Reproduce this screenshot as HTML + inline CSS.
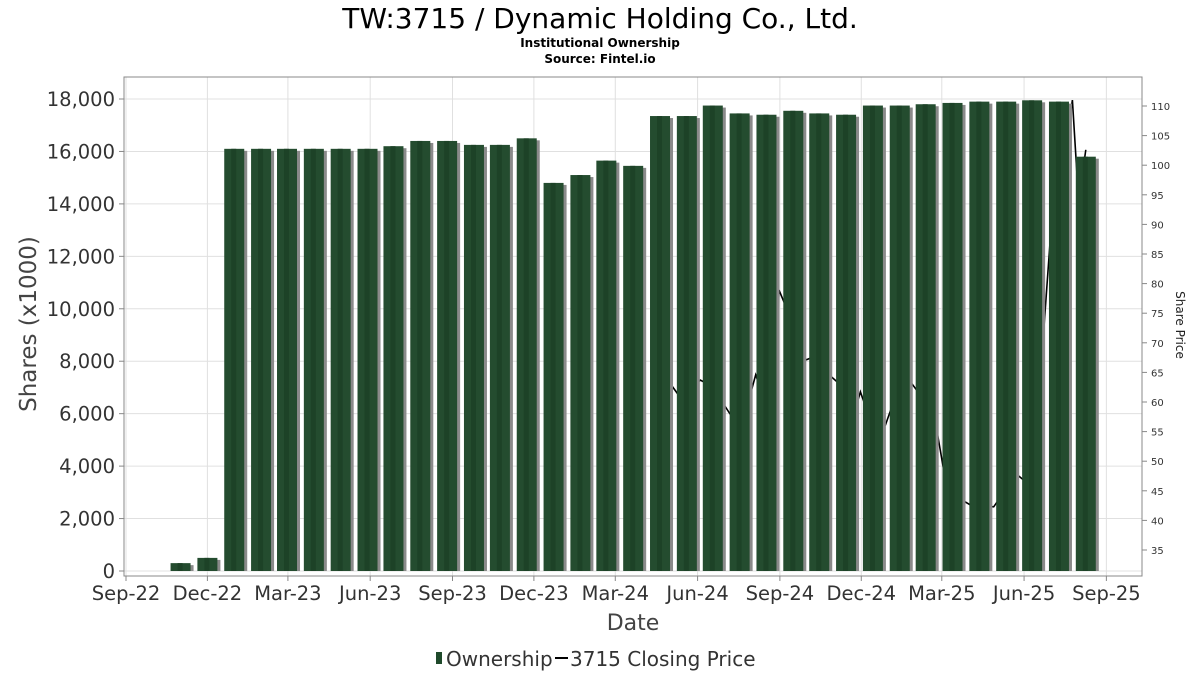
<!DOCTYPE html>
<html><head><meta charset="utf-8"><style>
body{margin:0;background:#fff;width:1200px;height:675px;overflow:hidden;font-family:"DejaVu Sans","Liberation Sans",sans-serif}
svg text{font-family:"DejaVu Sans","Liberation Sans",sans-serif}
</style></head><body>
<svg id="chart" width="1200" height="675" xmlns="http://www.w3.org/2000/svg">
<text x="600" y="28" text-anchor="middle" font-size="28" fill="#000">TW:3715 / Dynamic Holding Co., Ltd.</text>
<text x="600" y="47" text-anchor="middle" font-size="12" font-weight="bold">Institutional Ownership</text>
<text x="600" y="63" text-anchor="middle" font-size="12" font-weight="bold">Source: Fintel.io</text>
<g id="grid"></g><g id="line"></g><g id="bars"></g><g id="axes"></g>
<rect x="124" y="77" width="1018" height="499" fill="none" stroke="#888" stroke-width="1"/>
<text transform="translate(36,324) rotate(-90)" text-anchor="middle" font-size="23" fill="#444">Shares (x1000)</text>
<text transform="translate(1176,325) rotate(90)" text-anchor="middle" font-size="12" fill="#222">Share Price</text>
<text x="633" y="630" text-anchor="middle" font-size="22" fill="#444">Date</text>
<g>
<rect x="436" y="652" width="6" height="12" fill="#1f4a2b"/>
<text x="446" y="666" font-size="20" fill="#333">Ownership</text>
<line x1="555" y1="658" x2="568" y2="658" stroke="#000" stroke-width="2"/>
<text x="570" y="666" font-size="20" fill="#333">3715 Closing Price</text>
</g>
</svg>
<script>
const barDates=["2022-11-01","2022-12-01","2022-12-31","2023-01-30","2023-02-28","2023-03-30","2023-04-29","2023-05-29","2023-06-27","2023-07-27","2023-08-26","2023-09-25","2023-10-24","2023-11-23","2023-12-23","2024-01-22","2024-02-20","2024-03-21","2024-04-20","2024-05-20","2024-06-18","2024-07-18","2024-08-17","2024-09-16","2024-10-15","2024-11-14","2024-12-14","2025-01-13","2025-02-11","2025-03-13","2025-04-12","2025-05-12","2025-06-10","2025-07-10","2025-08-09"];
const shares=[300,500,16100,16100,16100,16100,16100,16100,16200,16400,16400,16250,16250,16500,14800,15100,15650,15450,17350,17350,17750,17450,17400,17550,17450,17400,17750,17750,17800,17850,17900,17900,17950,17900,15800];
const priceDates=["2024-05-01","2024-05-13","2024-06-04","2024-06-17","2024-07-08","2024-07-13","2024-08-05","2024-08-10","2024-08-27","2024-08-31","2024-09-07","2024-09-30","2024-10-05","2024-11-13","2024-11-24","2024-11-30","2024-12-11","2024-12-28","2025-01-14","2025-01-25","2025-02-05","2025-02-24","2025-03-05","2025-03-12","2025-03-24","2025-04-02","2025-04-28","2025-05-06","2025-05-26","2025-06-03","2025-06-19","2025-07-01","2025-07-12","2025-07-25","2025-08-01","2025-08-09"];
const prices=[63.2,60.7,63.7,62.7,57.8,51.9,64.6,62.4,63.4,78.9,76.4,67.1,67.4,62.2,58.6,61.7,57,56.1,63.4,63.4,61.2,54.8,46.8,39.7,43.4,42.6,42.3,44,47.5,46.5,63.7,89,97.5,111,94,102.6];
const yTicks=[0,2000,4000,6000,8000,10000,12000,14000,16000,18000];
const y2Ticks=[35,40,45,50,55,60,65,70,75,80,85,90,95,100,105,110];
const xTickLabels=["Sep-22","Dec-22","Mar-23","Jun-23","Sep-23","Dec-23","Mar-24","Jun-24","Sep-24","Dec-24","Mar-25","Jun-25","Sep-25"];
const xTickDates=["2022-09-01","2022-12-01","2023-03-01","2023-06-01","2023-09-01","2023-12-01","2024-03-01","2024-06-01","2024-09-01","2024-12-01","2025-03-01","2025-06-01","2025-09-01"];

const NS="http://www.w3.org/2000/svg";
const t0=Date.UTC(2022,8,1);
function xs(d){const p=d.split('-');const days=(Date.UTC(+p[0],p[1]-1,+p[2])-t0)/864e5;return 126+days*0.8945;}
function ys(v){return 571-v*(472/18000);}
function y2s(p){return 106+(110-p)*5.92;}
function mk(tag,attrs,parent){const e=document.createElementNS(NS,tag);for(const k in attrs)e.setAttribute(k,attrs[k]);parent.appendChild(e);return e;}
const grid=document.getElementById('grid'),axes=document.getElementById('axes'),bars=document.getElementById('bars'),line=document.getElementById('line');
yTicks.forEach(v=>{
 const g=mk('line',{x1:124,x2:1142,y1:ys(v),y2:ys(v),stroke:'#e0e0e0'},grid);
 
 
 mk('line',{x1:119,x2:124,y1:ys(v),y2:ys(v),stroke:'#888'},axes);
 const t=mk('text',{x:115,y:ys(v)+7,'text-anchor':'end','font-size':19.5,fill:'#333'},axes);
 t.textContent=v.toLocaleString('en-US');
 
 
});
xTickDates.forEach((d,i)=>{
 const x=xs(d);
 const g=mk('line',{x1:x,x2:x,y1:77,y2:576,stroke:'#e0e0e0'},grid);
 
 
 mk('line',{x1:x,x2:x,y1:576,y2:581,stroke:'#888'},axes);
 const t=mk('text',{x:x,y:600,'text-anchor':'middle','font-size':19.5,fill:'#333'},axes);
 t.textContent=xTickLabels[i];
 
 
});
y2Ticks.forEach(p=>{
 mk('line',{x1:1142,x2:1147,y1:y2s(p),y2:y2s(p),stroke:'#888'},axes);
 const t=mk('text',{x:1151,y:y2s(p)+4,'font-size':10,fill:'#333'},axes);
 t.textContent=p;
 
 
});
let pts=priceDates.map((d,i)=>xs(d).toFixed(1)+','+y2s(prices[i]).toFixed(1)).join(' ');
const pl=mk('polyline',{points:pts,fill:'none',stroke:'#000','stroke-width':1.6},line);


barDates.forEach((d,i)=>{
 const x=xs(d),y=ys(shares[i]),h=571-y;
 const s=mk('rect',{x:x-8,y:y+2,width:21,height:h-2,fill:'#8a8a8a'},bars);
 
 
 const b=mk('rect',{x:x-10,y:y,width:20,height:h,fill:'#244c2f'},bars);
 
 
 const st=mk('rect',{x:x-3,y:y,width:5,height:h,fill:'#1d4227'},bars);
 
 
});
</script>
</body></html>
